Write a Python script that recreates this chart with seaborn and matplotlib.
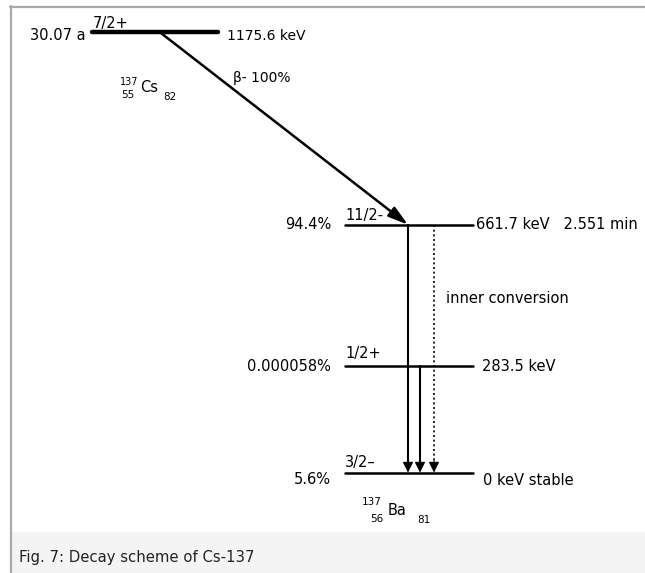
import pandas as pd
import seaborn as sns
import matplotlib.pyplot as plt
from matplotlib.patches import Rectangle
from matplotlib.lines import Line2D

sns.set_theme(style="white")
plt.rcParams['font.family'] = ['DejaVu Sans']
plt.rcParams['text.color'] = 'black'

# === data: Cs-137 decay scheme ===
parent_energy = 1175.6
parent_spin = "7/2+"
parent_halflife = "30.07 a"
beta_label = "β- 100%"

level_energy = [661.7, 283.5, 0.0]
level_spin = ["11/2-", "1/2+", "3/2–"]
level_feed = ["94.4%", "0.000058%", "5.6%"]
level_text = ["661.7 keV   2.551 min", "283.5 keV", "0 keV stable"]

trans_from = [661.7, 283.5, 661.7]
trans_to = [0.0, 0.0, 0.0]
trans_kind = ["gamma", "gamma", "ic"]
ic_label = "inner conversion"

caption = "Fig. 7: Decay scheme of Cs-137"

# === layout (pixels) ===
W, H = 645, 573
K = 0.37446   # px per keV
Y0 = 472.5    # pixel row of 0 keV


def e(px):
    """pixel row -> energy axis"""
    return (Y0 - px) / K


def dy(px):
    return px / K


PARENT_X = (92, 218)
LEVEL_X = (345, 473)
BETA_X0 = 160
TRANS_X = [408, 420, 434]
FS = 10.5

fig = plt.figure(figsize=(W / 100, H / 100), dpi=100)
ax = fig.add_axes([0, 0, 1, 1])

# caption band and frame
fig.patches.append(Rectangle((12 / W, 0), 1, 41 / H, transform=fig.transFigure,
                             facecolor="#f4f4f4", edgecolor="none", zorder=-1))
fig.add_artist(Line2D([11 / W, 11 / W], [0, 1 - 6 / H], color="#aaaaaa", lw=1.6))
fig.add_artist(Line2D([10 / W, 1], [1 - 7 / H, 1 - 7 / H], color="#aaaaaa", lw=1.6))

# level lines
parent_df = pd.DataFrame({"x": list(PARENT_X), "E": [parent_energy] * 2, "lvl": [0, 0]})
sns.lineplot(data=parent_df, x="x", y="E", units="lvl", estimator=None,
             color="black", lw=3.2, ax=ax, legend=False)

rows = []
for i, en in enumerate(level_energy):
    for x in LEVEL_X:
        rows.append({"x": x, "E": en, "lvl": i})
levels_df = pd.DataFrame(rows)
sns.lineplot(data=levels_df, x="x", y="E", units="lvl", estimator=None,
             color="black", lw=1.8, ax=ax, legend=False)

# transitions
head = 12  # px
for i, (a, b, kind) in enumerate(zip(trans_from, trans_to, trans_kind)):
    seg = pd.DataFrame({"x": [TRANS_X[i]] * 2, "E": [a, b + dy(head - 1)], "u": [i, i]})
    sns.lineplot(data=seg, x="x", y="E", units="u", estimator=None, color="black",
                 lw=1.5 if kind == "gamma" else 1.2,
                 linestyle="-" if kind == "gamma" else (0, (1.2, 1.6)),
                 ax=ax, legend=False, sort=False)
    ax.annotate("", xy=(TRANS_X[i], b), xytext=(TRANS_X[i], b + dy(head)),
                arrowprops=dict(arrowstyle="-|>", color="black", lw=0.8,
                                mutation_scale=16, shrinkA=0, shrinkB=0))

# beta arrow
ax.annotate("", xy=(TRANS_X[0], level_energy[0]), xytext=(BETA_X0, parent_energy),
            arrowprops=dict(arrowstyle="-|>,head_length=0.75,head_width=0.22",
                            color="black", lw=1.8,
                            mutation_scale=16, shrinkA=0, shrinkB=0))

# parent texts
ax.text(86, e(40), parent_halflife, ha="right", va="baseline", fontsize=FS)
ax.text(93, e(28), parent_spin, ha="left", va="baseline", fontsize=FS)
ax.text(227, e(40), f"{parent_energy} keV", ha="left", va="baseline", fontsize=FS - 0.5)
ax.text(233, e(82), beta_label, ha="left", va="baseline", fontsize=FS - 0.5)
ax.text(120, e(85), "137", ha="left", va="baseline", fontsize=7)
ax.text(121, e(98), "55", ha="left", va="baseline", fontsize=7.5)
ax.text(140, e(92), "Cs", ha="left", va="baseline", fontsize=FS)
ax.text(163, e(100), "82", ha="left", va="baseline", fontsize=7.5)

# daughter level texts
spin_base = [220, 358, 467]
feed_base = [229, 371, 484]
text_base = [229, 371, 485]
text_x = [476, 482, 483]
for i, en in enumerate(level_energy):
    ax.text(LEVEL_X[0], e(spin_base[i]), level_spin[i], ha="left", va="baseline", fontsize=FS)
    ax.text(331, e(feed_base[i]), level_feed[i], ha="right", va="baseline", fontsize=FS)
    ax.text(text_x[i], e(text_base[i]), level_text[i], ha="left", va="baseline", fontsize=FS)

ax.text(446, e(303), ic_label, ha="left", va="baseline", fontsize=FS)

# daughter nuclide
ax.text(362, e(505), "137", ha="left", va="baseline", fontsize=7.5)
ax.text(370, e(522), "56", ha="left", va="baseline", fontsize=7.5)
ax.text(388, e(515), "Ba", ha="left", va="baseline", fontsize=FS)
ax.text(417, e(523), "81", ha="left", va="baseline", fontsize=7.5)

# caption
ax.text(19, e(562), caption, ha="left", va="baseline", fontsize=10.7, color="#222222")

ax.set_xlim(0, W)
ax.set_ylim(e(H), e(0))
ax.axis("off")

fig.savefig("out.png", dpi=100)
